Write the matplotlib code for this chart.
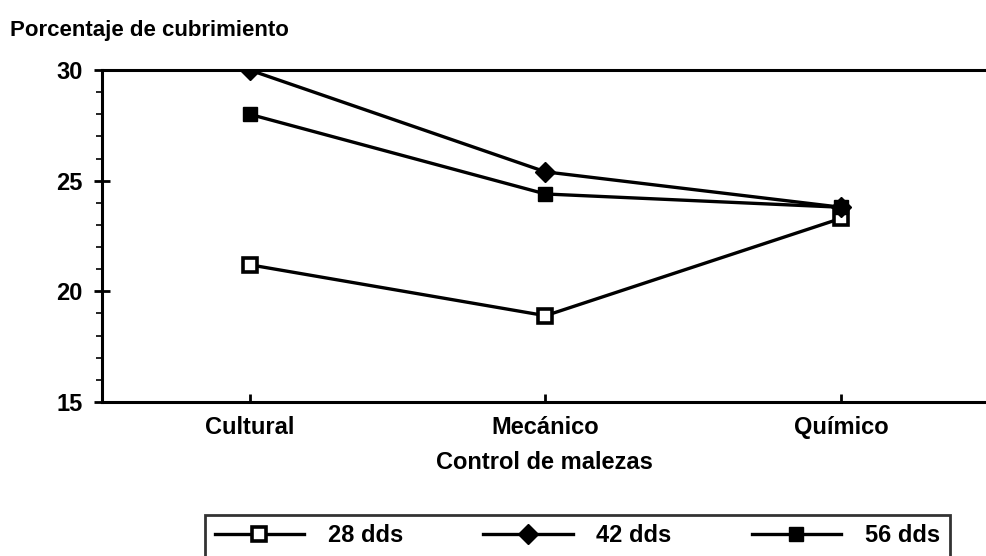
import matplotlib.pyplot as plt
import numpy as np

plt.rcParams['font.family'] = ['Liberation Sans', 'DejaVu Sans']

# datos
categorias = ['Cultural', 'Mecánico', 'Químico']
dds_28 = [21.2, 18.9, 23.3]
dds_42 = [30.0, 25.4, 23.8]
dds_56 = [28.0, 24.4, 23.8]
etiquetas = ['28 dds', '42 dds', '56 dds']

fig = plt.figure(figsize=(9.86, 5.56), dpi=100)
ax = fig.add_axes([0.1034, 0.277, 0.8966, 0.597])

x = np.arange(len(categorias))
l1, = ax.plot(x, dds_28, color='black', lw=2.4, marker='s', ms=10,
              mfc='white', mec='black', mew=2.6, label=etiquetas[0])
l2, = ax.plot(x, dds_42, color='black', lw=2.4, marker='D', ms=10,
              mfc='black', mec='black', label=etiquetas[1])
l3, = ax.plot(x, dds_56, color='black', lw=2.4, marker='s', ms=10,
              mfc='black', mec='black', label=etiquetas[2])

ax.set_xlim(-0.5, 2.49)
ax.set_ylim(15, 30)
ax.set_yticks([15, 20, 25, 30])
ax.set_yticks(np.arange(15, 31, 1), minor=True)
ax.set_xticks(x)
ax.set_xticklabels(categorias)

for s in ['left', 'bottom', 'top']:
    ax.spines[s].set_linewidth(2.2)
ax.spines['right'].set_visible(False)

ax.tick_params(axis='y', which='major', direction='inout', length=12, width=2,
               labelsize=17, pad=8)
ax.tick_params(axis='y', which='minor', direction='out', length=4, width=1.2)
ax.tick_params(axis='x', direction='in', length=6, width=2, labelsize=17, pad=10)
for t in ax.get_yticklabels() + ax.get_xticklabels():
    t.set_fontweight('bold')

ax.set_xlabel('Control de malezas', fontsize=17, fontweight='bold', labelpad=9)
fig.text(0.010, 0.946, 'Porcentaje de cubrimiento', fontsize=16,
         fontweight='bold', va='center')

leg = fig.legend(handles=[l1, l2, l3], loc='upper left', ncol=3,
                 bbox_to_anchor=(0.208, 0.074, 0.755, 0.0), mode='expand',
                 borderaxespad=0, handlelength=3.8,
                 prop={'size': 17, 'weight': 'bold'},
                 frameon=True, fancybox=False, edgecolor='black',
                 columnspacing=1.0, handletextpad=1.0)
leg.get_frame().set_linewidth(2)

fig.savefig('out.png', dpi=100)
